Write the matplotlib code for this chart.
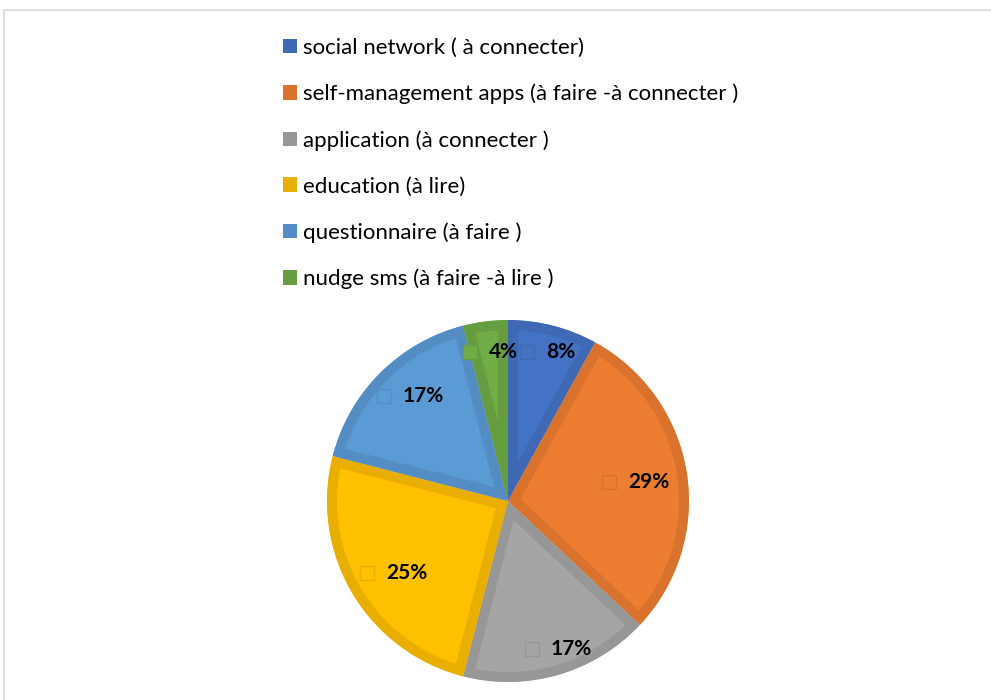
import matplotlib
matplotlib.use('Agg')
import matplotlib.pyplot as plt
from matplotlib.patches import Rectangle, Patch, Wedge
import numpy as np

# data
categories = [
    'social network ( à connecter)',
    'self-management apps (à faire -à connecter )',
    'application (à connecter )',
    'education (à lire)',
    'questionnaire (à faire )',
    'nudge sms (à faire -à lire )',
]
shares = [8, 29, 17, 25, 17, 4]
pct_labels = ['8%', '29%', '17%', '25%', '17%', '4%']

# styling
fill_colors = ['#4472C4', '#ED7D31', '#A5A5A5', '#FFC000', '#5B9BD5', '#70AD47']
edge_colors = ['#3F69B4', '#D8722D', '#979797', '#E8AF00', '#538DC3', '#669D41']
label_radius = [0.85, 0.67, 0.85, 0.78, 0.82, 0.83]

plt.rcParams['font.family'] = ['Lato', 'DejaVu Sans']

W, H = 991, 700
fig = plt.figure(figsize=(W / 100, H / 100), dpi=100)

# outer chart frame (light gray, runs off right/bottom)
fig.add_artist(Rectangle((4 / W, -0.1), 1.2, (H - 10) / H + 0.1,
                         transform=fig.transFigure, fill=False,
                         edgecolor='#D9D9D9', linewidth=1.2))

# pie axes: radius 1 -> R pixels
R = 181.0
cx, cy = 508, 199  # centre in pixels from bottom-left
half = 200
ax = fig.add_axes([(cx - half) / W, (cy - half) / H, 2 * half / W, 2 * half / H])
ax.axis('off')

wedges, _ = ax.pie(shares, startangle=90, counterclock=False,
                   colors=fill_colors, radius=1.0)
ax.set_xlim(-half / R, half / R)
ax.set_ylim(-half / R, half / R)
ax.set_aspect('equal')

# inner border: thick stroke clipped to the wedge itself
border_px = 10
for w, ec in zip(wedges, edge_colors):
    clip = Wedge(w.center, w.r, w.theta1, w.theta2, transform=ax.transData)
    w.set_edgecolor(ec)
    w.set_linewidth(2 * border_px * 0.72)
    w.set_joinstyle('miter')
    w.set_clip_on(True)
    w.set_clip_path(clip)

# data labels with small square marker
px = 1.0 / R
for w, lab, ec, fc, lr in zip(wedges, pct_labels, edge_colors, fill_colors, label_radius):
    ang = np.deg2rad((w.theta1 + w.theta2) / 2)
    x, y = lr * np.cos(ang), lr * np.sin(ang)
    ax.text(x, y, lab, ha='left', va='center', fontsize=15,
            fontweight='bold', color='black')
    ax.add_patch(Rectangle((x - 26 * px, y - 7 * px), 14 * px, 14 * px,
                           facecolor=fc, edgecolor=ec, linewidth=1.0, zorder=5))

# legend
handles = [Patch(facecolor=ec, edgecolor='none') for ec in edge_colors]
leg = fig.legend(handles, categories, loc='upper left',
                 bbox_to_anchor=(283 / W, 1 - 38 / H), frameon=False,
                 fontsize=16, handlelength=0.63, handleheight=0.63,
                 handletextpad=0.25, labelspacing=1.16, borderpad=0,
                 borderaxespad=0)

fig.savefig('out.png', dpi=100)
